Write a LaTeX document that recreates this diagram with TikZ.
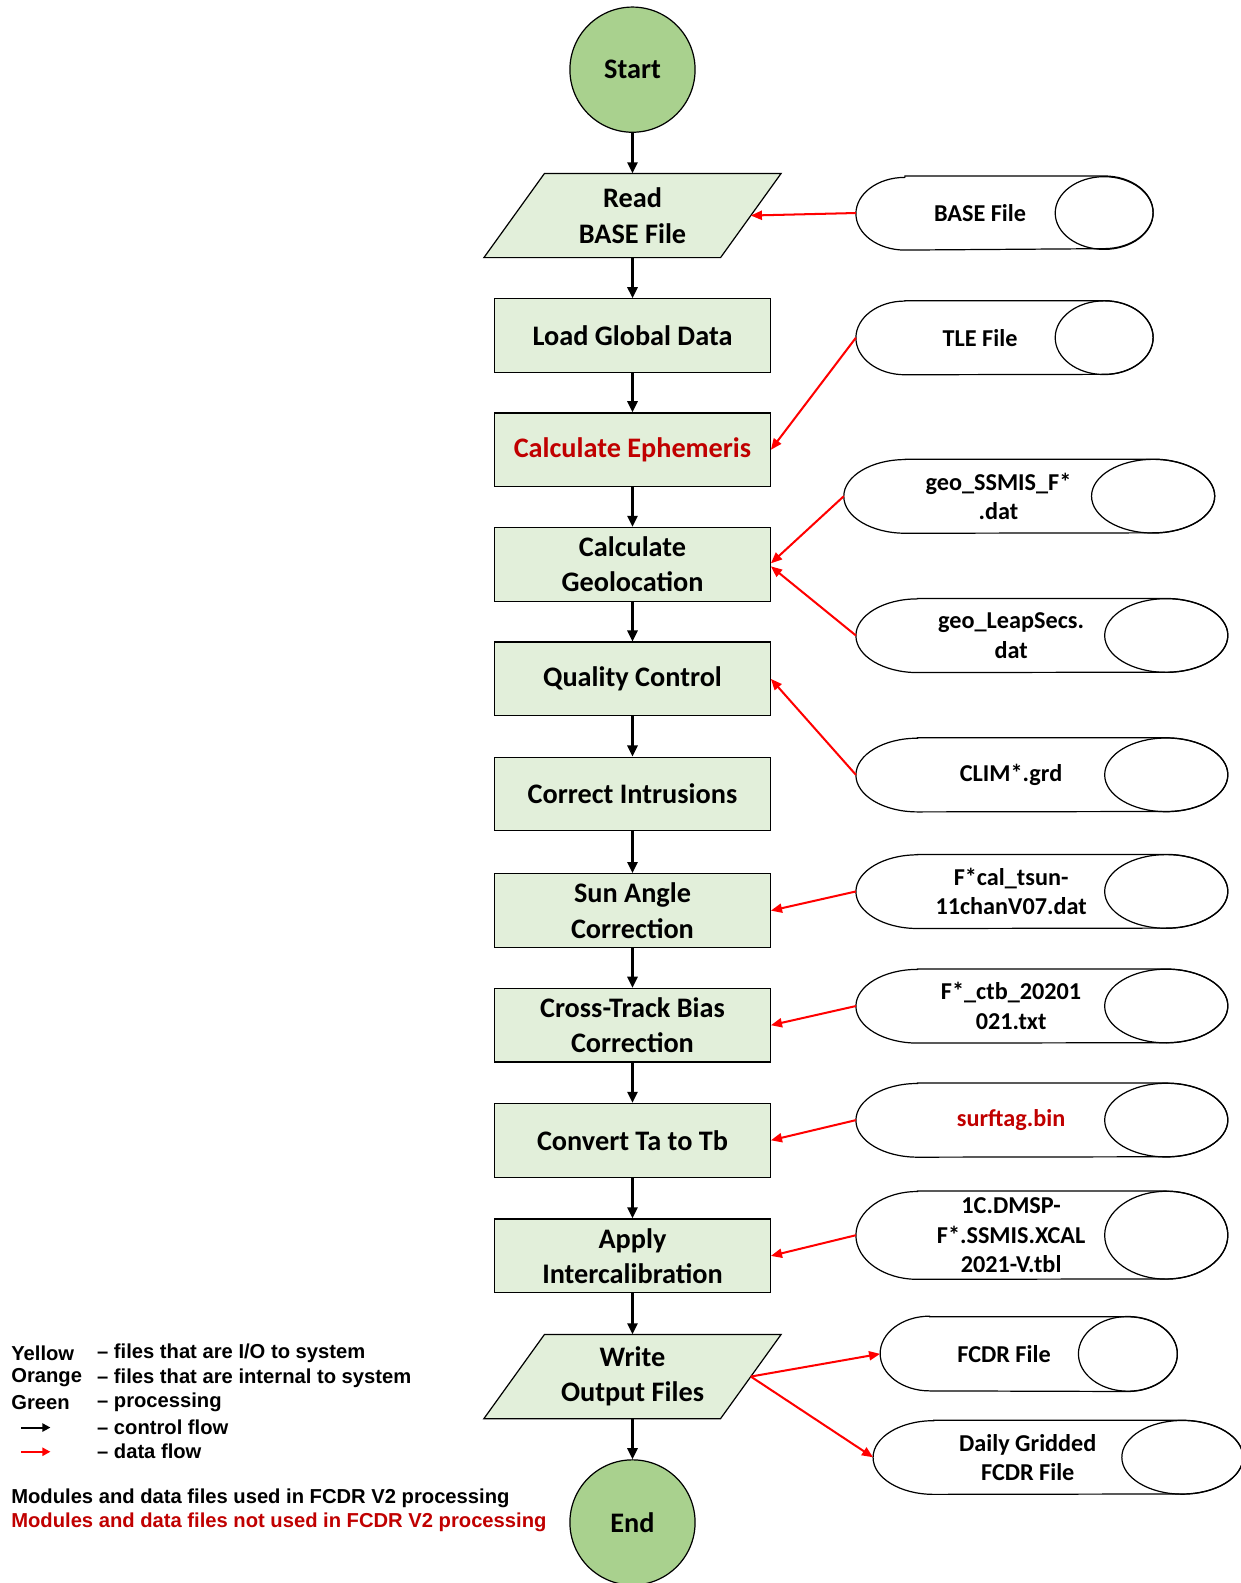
\documentclass[tikz,border=0pt]{standalone}
\usepackage{fontspec}
\setmainfont{Carlito}
\newfontfamily\legendfont{Liberation Sans}
\usetikzlibrary{arrows.meta,backgrounds}
\definecolor{procfill}{HTML}{E2EFDA}
\definecolor{termfill}{HTML}{A9D18E}
\definecolor{unused}{HTML}{C00000}
\newcommand\boxfont{\bfseries\fontsize{28}{35}\selectfont}
\newcommand\filefont{\bfseries\fontsize{24}{29}\selectfont}
\newcommand\keyfont{\legendfont\bfseries\fontsize{20}{24}\selectfont}
\tikzset{
  process/.style={draw, fill=procfill, line width=1.2pt, minimum width=273pt,
    minimum height=73pt, align=center, font=\boxfont},
  terminal/.style={circle, draw, fill=termfill, line width=1.2pt, minimum size=124pt,
    inner sep=0pt, font=\boxfont},
  inout/.style={minimum width=234pt, minimum height=83pt, align=center, font=\boxfont},
  store/.style={minimum height=73pt, inner sep=0pt, align=center, font=\filefont},
  keytext/.style={anchor=west, inner sep=0pt, font=\keyfont},
  control/.style={-{Triangle[length=11pt,width=10pt]}, line width=2.5pt},
  data/.style={red, -{Triangle[length=11pt,width=9pt]}, line width=2pt},
}
\begin{document}
\begin{tikzpicture}[x=1pt,y=1pt]
\useasboundingbox (0,0) rectangle (1229,-1568);
% main flow
\node[terminal] (start) at (626.5,-69) {Start};
\node[inout] (read) at (626.5,-213.5) {Read\\BASE File};
\node[process] (load) at (626.5,-332.5) {Load Global Data};
\node[process, text=unused] (ephem) at (626.5,-445.5) {Calculate Ephemeris};
\node[process] (geoloc) at (626.5,-559) {Calculate\\Geolocation};
\node[process] (qc) at (626.5,-672.5) {Quality Control};
\node[process] (intr) at (626.5,-786.5) {Correct Intrusions};
\node[process] (sun) at (626.5,-902) {Sun Angle\\Correction};
\node[process] (ctrack) at (626.5,-1015.5) {Cross-Track Bias\\Correction};
\node[process] (convert) at (626.5,-1129.5) {Convert Ta to Tb};
\node[process] (apply) at (626.5,-1244) {Apply\\Intercalibration};
\node[inout] (write) at (626.5,-1363.5) {Write\\Output Files};
\node[terminal] (stop) at (626.5,-1508) {End};
\begin{scope}[on background layer]
  \foreach \n in {read,write}
    \draw[fill=procfill, line width=1.2pt] ([xshift=-30pt]\n.south west) -- ([xshift=-30pt]\n.south east)
      -- ([xshift=30pt]\n.north east) -- ([xshift=30pt]\n.north west) -- cycle;
\end{scope}
% files
\node[store, minimum width=245.5pt] (base) at (970.75,-211) {BASE File};
\node[store, minimum width=245.5pt] (tle) at (970.75,-334.5) {TLE File};
\node[store, minimum width=306pt] (geossmis) at (989,-491.5) {geo\_SSMIS\_F*\\.dat};
\node[store, minimum width=307pt] (leapsecs) at (1001.5,-629.5) {geo\_LeapSecs.\\dat};
\node[store, minimum width=307pt] (clim) at (1001.5,-767.5) {CLIM*.grd};
\node[store, minimum width=307pt] (tsun) at (1001.5,-883) {F*cal\_tsun-\\11chanV07.dat};
\node[store, minimum width=307pt] (ctb) at (1001.5,-996.5) {F*\_ctb\_20201\\021.txt};
\node[store, minimum width=307pt, text=unused] (surftag) at (1001.5,-1109.5) {surftag.bin};
\node[store, minimum width=307pt, minimum height=87pt] (xcal) at (1001.5,-1223.5) {1C.DMSP-\\F*.SSMIS.XCAL\\2021-V.tbl};
\node[store, minimum width=245pt] (fcdr) at (994.5,-1341) {FCDR File};
\node[store, minimum width=306pt] (daily) at (1018,-1443.5) {Daily Gridded\\FCDR File};
\foreach \f/\r/\hh in {base/48.5/36, tle/48.5/36.5, geossmis/61/36.5, leapsecs/61/36.5,
    clim/61/36.5, tsun/61/36.5, ctb/61/36.5, surftag/61/36.5, xcal/61/43.5,
    fcdr/49/37, daily/60/36.5} {
  \draw[line width=1.2pt] ([xshift=\r pt]\f.north west) -- (\f.north east)
    arc[start angle=90, end angle=-90, x radius=\r pt, y radius=\hh pt]
    -- ([xshift=\r pt]\f.south west)
    arc[start angle=270, end angle=90, x radius=\r pt, y radius=\hh pt] -- cycle;
  \draw[line width=1.2pt] (\f.east) ellipse[x radius=\r pt, y radius=\hh pt];
}
% control flow
\foreach \a/\b in {start/read, read/load, load/ephem, ephem/geoloc, geoloc/qc, qc/intr,
    intr/sun, sun/ctrack, ctrack/convert, convert/apply, apply/write, write/stop}
  \draw[control] (\a) -- (\b);
% data flow
\draw[data] (base.west) -- (read.east);
\draw[data] (tle.west) -- (ephem.east);
\draw[data] (geossmis.west) -- ([yshift=1pt]geoloc.east);
\draw[data] (leapsecs.west) -- ([yshift=-2pt]geoloc.east);
\draw[data] (clim.west) -- (qc.east);
\draw[data] (tsun.west) -- (sun.east);
\draw[data] (ctb.west) -- (ctrack.east);
\draw[data] (surftag.west) -- (convert.east);
\draw[data] (xcal.west) -- (apply.east);
\draw[data] (write.east) -- (fcdr.west);
\draw[data] (write.east) -- (daily.west);
% legend
\node[keytext] (kyellow) at (11,-1340) {Yellow};
\node[keytext] (korange) at (11,-1365) {Orange};
\node[keytext] (kgreen) at (11,-1389) {Green};
\node[keytext] (tyellow) at (96,-1340) {\textendash\ files that are I/O to system};
\node[keytext] (torange) at (96,-1365) {\textendash\ files that are internal to system};
\node[keytext] (tgreen) at (96,-1389) {\textendash\ processing};
\node[keytext] (tcontrol) at (96,-1414) {\textendash\ control flow};
\node[keytext] (tdata) at (96,-1438) {\textendash\ data flow};
\coordinate (c1) at (21,-1414); \coordinate (c2) at (50,-1414);
\coordinate (d1) at (21,-1438); \coordinate (d2) at (50,-1438);
\draw[-{Triangle[length=8pt,width=8pt]}, line width=2pt] (c1) -- (c2);
\draw[-{Triangle[length=8pt,width=8pt]}, line width=2pt, red] (d1) -- (d2);
\node[keytext] (used) at (11,-1484) {Modules and data files used in FCDR V2 processing};
\node[keytext, text=unused] (notused) at (11,-1508) {Modules and data files not used in FCDR V2 processing};
\end{tikzpicture}
\end{document}
